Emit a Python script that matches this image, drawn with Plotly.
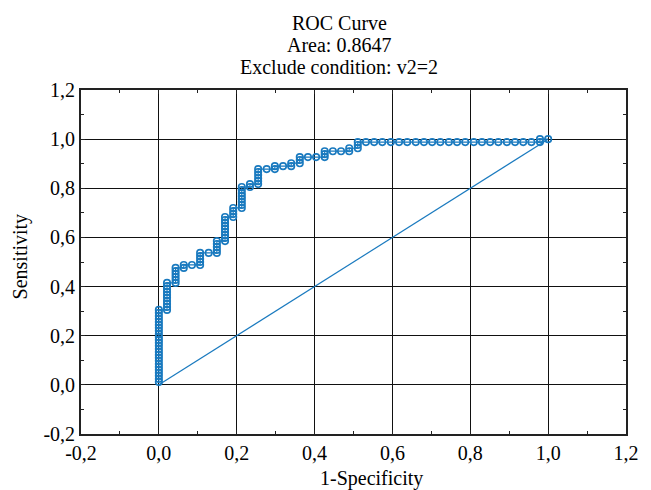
import plotly.graph_objects as go

# ---- data ----
# 1-Specificity position of each column of points
fpr_cols = [0.0, 0.021, 0.043, 0.064, 0.085, 0.106, 0.128, 0.149, 0.170, 0.191,
            0.213, 0.234, 0.255, 0.277, 0.298, 0.319, 0.340, 0.362, 0.383, 0.404,
            0.426, 0.447, 0.468, 0.489, 0.511, 0.532, 0.553, 0.574, 0.596, 0.617,
            0.638, 0.660, 0.681, 0.702, 0.723, 0.745, 0.766, 0.787, 0.809, 0.830,
            0.851, 0.872, 0.894, 0.915, 0.936, 0.957, 0.979, 1.0]
# Sensitivity values of the points in each column
tpr_cols = [
    [0.012, 0.024, 0.037, 0.049, 0.061, 0.073, 0.085, 0.098, 0.110, 0.122, 0.134, 0.146,
     0.159, 0.171, 0.183, 0.195, 0.207, 0.220, 0.232, 0.244, 0.256, 0.268, 0.280, 0.293, 0.305],
    [0.305, 0.317, 0.329, 0.341, 0.354, 0.366, 0.378, 0.390, 0.402, 0.415],
    [0.415, 0.427, 0.439, 0.451, 0.463, 0.476],
    [0.476, 0.488],
    [0.488],
    [0.488, 0.500, 0.512, 0.524, 0.537],
    [0.537],
    [0.537, 0.549, 0.561, 0.573, 0.585],
    [0.585, 0.598, 0.610, 0.622, 0.634, 0.646, 0.659, 0.671, 0.683],
    [0.683, 0.695, 0.707, 0.720],
    [0.720, 0.732, 0.744, 0.756, 0.768, 0.780, 0.793, 0.805],
    [0.805, 0.817],
    [0.817, 0.829, 0.841, 0.854, 0.866, 0.878],
    [0.878],
    [0.878, 0.890],
    [0.890],
    [0.890, 0.902],
    [0.902, 0.915, 0.927],
    [0.927],
    [0.927],
    [0.927, 0.939, 0.951],
    [0.951],
    [0.951],
    [0.951, 0.963],
    [0.963, 0.976, 0.988],
    [0.988], [0.988], [0.988], [0.988], [0.988], [0.988], [0.988],
    [0.988], [0.988], [0.988], [0.988], [0.988], [0.988], [0.988],
    [0.988], [0.988], [0.988], [0.988], [0.988], [0.988], [0.988],
    [0.988, 1.0],
    [1.0],
]
diag_x = [0.0, 1.0]
diag_y = [0.0, 1.0]
tick_vals = [-0.2, 0.0, 0.2, 0.4, 0.6, 0.8, 1.0, 1.2]
tick_text = ["-0,2", "0,0", "0,2", "0,4", "0,6", "0,8", "1,0", "1,2"]
title_lines = ["ROC Curve", "Area: 0.8647", "Exclude condition: v2=2"]

fpr = []
tpr = []
for xv, col in zip(fpr_cols, tpr_cols):
    for yv in col:
        fpr.append(xv)
        tpr.append(yv)

BLUE = "#1a7abf"
FONT = "Liberation Serif"

# page offset of the plotly div (body margin) and plot-area geometry
OFF = 8
W, H = 651 - OFF, 490 - OFF
L, T, R, B = 81, 90, 630, 434          # plot area in page pixels
PW, PH = R - L, B - T


def px_x(X):
    return (X - L) / PW


def px_y(Y):
    return (B - Y) / PH


fig = go.Figure()
fig.add_trace(go.Scatter(x=diag_x, y=diag_y, mode="lines",
                         line=dict(color=BLUE, width=1.2), hoverinfo="skip"))
fig.add_trace(go.Scatter(x=fpr, y=tpr, mode="lines+markers",
                         line=dict(color=BLUE, width=1.2),
                         marker=dict(symbol="circle-open", size=6.5, color=BLUE,
                                     line=dict(width=1.6, color=BLUE))))

axis_common = dict(
    range=[-0.2, 1.2], tickmode="array", tickvals=tick_vals, ticktext=tick_text,
    showline=True, mirror="ticks", linecolor="#222", linewidth=1.8,
    showgrid=True, gridcolor="#111", gridwidth=1, zeroline=False,
    ticks="inside", ticklen=4, tickcolor="#222",
    minor=dict(dtick=0.1, tick0=0, ticks="inside", ticklen=3, tickcolor="#222", showgrid=False),
    tickfont=dict(family=FONT, size=20, color="black"),
)

fig.update_layout(
    width=W, height=H,
    margin=dict(l=L - OFF, r=W - (R - OFF), t=T - OFF, b=H - (B - OFF), pad=0),
    paper_bgcolor="white", plot_bgcolor="white",
    showlegend=False,
    font=dict(family=FONT, size=20, color="black"),
    xaxis=dict(**axis_common),
    yaxis=dict(**axis_common),
)

title_y = [23, 45, 67]
for txt, yy in zip(title_lines, title_y):
    fig.add_annotation(text=txt, xref="paper", yref="paper",
                       x=px_x(341), y=px_y(yy), xanchor="center", yanchor="middle",
                       showarrow=False, font=dict(family=FONT, size=20, color="black"))

fig.add_annotation(text="1-Specificity", xref="paper", yref="paper",
                   x=px_x(374), y=px_y(478), xanchor="center", yanchor="middle", showarrow=False,
                   font=dict(family=FONT, size=20, color="black"))
fig.add_annotation(text="Sensitivity", xref="paper", yref="paper",
                   x=px_x(20), y=px_y(256), xanchor="center", yanchor="middle", showarrow=False,
                   textangle=-90, font=dict(family=FONT, size=20, color="black"))

fig.write_html("out.html")
